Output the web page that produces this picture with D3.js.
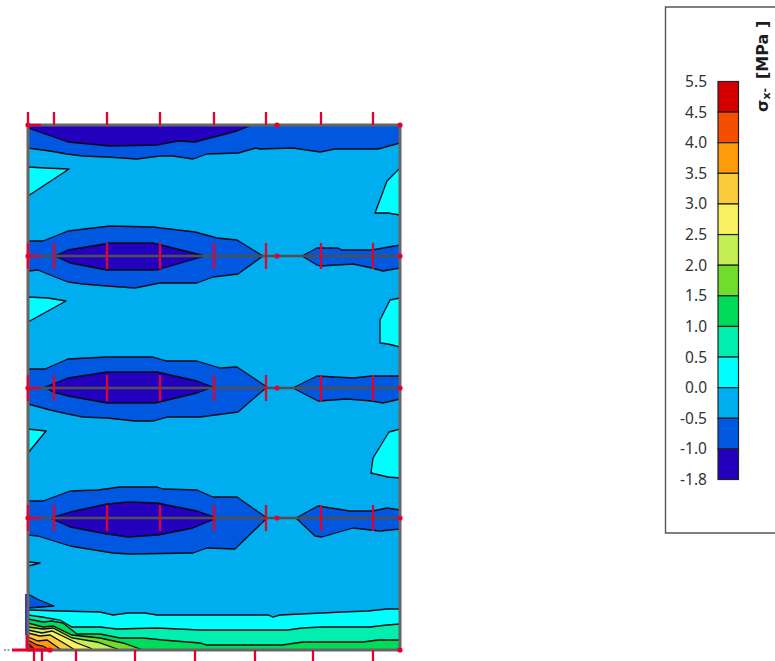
<!DOCTYPE html>
<html><head><meta charset="utf-8">
<script src="https://cdn.jsdelivr.net/npm/d3@7"></script>
<style>html,body{margin:0;padding:0;background:#fff;overflow:hidden}svg{display:block}</style>
</head><body><svg id="c" width="775" height="661"></svg>
<script>
// Stress levels and colours, top of legend first
const legendLabels = ["5.5","4.5","4.0","3.5","3.0","2.5","2.0","1.5","1.0","0.5","0.0","-0.5","-1.0","-1.8"];
const legendColors = ["#d40000","#f44e00","#ff9a0a","#facc3c","#f9f160","#c5ee55","#6edd2b","#00db5a","#00efae","#00ffff","#00aeef","#0058e0","#2200be"];
const elementWidth = 372, elementHeight = 525;
const floorLevels = [131, 263, 393];
const topTicks = [0,26,79,132,186,238,293,345];
const topDots = [249,372];
const floorTicks = [0,26,79,132,186,238,293,345];
const floorDots = [0,249,372];
const bottomTicks = [6,14,48,107,167,227,285,345];

// contour regions [x along the wall, depth from top]
const cyanRegions = [
 [[0,42],[17,43],[41,44],[0,71]],
 [[372,43],[359,56],[347,88],[360,88],[372,90]],
 [[0,172],[20,173],[38,176],[0,197]],
 [[372,173],[362,175],[352,195],[352,218],[360,219],[372,222]],
 [[0,304],[18,306],[0,328]],
 [[372,304],[361,307],[345,333],[343,348],[360,352],[372,353]],
 [[0,437],[12,438],[0,441]]
];
const midRegions = [
 [[0,0],[372,0],[372,18],[350,24],[307,24],[292,27],[265,23],[232,24],[228,23],[210,28],[179,29],[165,34],[145,31],[132,31],[109,34],[79,32],[55,31],[39,29],[22,26],[7,24],[0,23]],
 [[0,116],[15,116],[40,106],[82,101],[125,102],[167,107],[189,113],[209,115],[235,131],[210,149],[185,152],[169,158],[132,158],[107,163],[79,161],[55,159],[40,157],[27,152],[10,145],[0,146]],
 [[274,131],[289,123],[310,123],[314,125],[344,125],[372,120],[372,143],[355,146],[344,143],[325,139],[292,141],[289,140]],
 [[0,244],[17,244],[40,234],[79,232],[125,232],[139,236],[169,236],[192,243],[209,242],[239,262],[210,287],[172,292],[139,292],[125,296],[107,296],[79,293],[55,292],[40,289],[22,285],[0,279]],
 [[265,263],[289,251],[325,253],[344,251],[372,251],[372,274],[355,278],[344,276],[319,274],[290,276]],
 [[0,376],[15,376],[42,366],[70,365],[92,362],[129,362],[135,364],[169,365],[185,372],[209,372],[239,393],[207,424],[179,423],[165,428],[102,429],[85,428],[42,421],[10,411],[0,410]],
 [[268,393],[290,381],[322,386],[345,386],[359,383],[372,385],[372,404],[352,406],[325,403],[294,412],[287,411]],
 [[0,469],[9,474],[26,481],[0,483]]
];
const darkRegions = [
 [[0,0],[224,0],[209,6],[167,17],[150,16],[129,20],[82,21],[40,17],[0,3]],
 [[27,131],[40,125],[82,118],[125,118],[177,131],[129,145],[79,145],[42,138]],
 [[17,262],[40,253],[79,247],[129,247],[169,256],[185,262],[169,268],[127,278],[79,278],[40,271],[25,267]],
 [[22,393],[42,387],[79,379],[100,377],[129,378],[169,386],[189,393],[165,403],[130,410],[100,412],[79,409],[42,402]]
];
// fan of contour lines at the base, each with the colour region beneath it
const baseContours = [
 {color:"#00ffff", line:[[0,485],[32,486],[72,487],[85,490],[100,488],[117,488],[129,490],[172,490],[240,490],[245,492],[252,490],[294,488],[314,487],[340,486],[359,484],[372,484]]},
 {color:"#00efae", line:[[0,490],[14,492],[32,495],[44,502],[72,502],[89,504],[129,503],[172,505],[260,505],[274,503],[294,502],[342,502],[359,500],[372,499]]},
 {color:"#00db5a", line:[[0,494],[15,497],[24,496],[35,498],[49,509],[72,509],[92,513],[115,513],[135,515],[172,518],[179,520],[254,520],[275,517],[335,517],[350,515],[372,515]]},
 {color:"#6edd2b", line:[[0,498],[15,502],[25,501],[44,510],[72,513],[95,518],[115,525]]},
 {color:"#c5ee55", line:[[0,502],[15,504],[25,503],[44,513],[69,517],[92,525]]},
 {color:"#f9f160", line:[[0,505],[14,508],[24,506],[49,518],[62,523],[65,525]]},
 {color:"#facc3c", line:[[0,508],[12,511],[22,510],[39,520],[47,525]]},
 {color:"#ff9a0a", line:[[0,512],[10,516],[19,515],[32,524],[34,525]]},
 {color:"#f44e00", line:[[0,515],[9,520],[15,521],[22,525]]},
 {color:"#d40000", line:[[0,518],[7,525]]}
];

const RED="#e6002e", FRAME="#666", INK="#0a0a14";
const svg=d3.select("#c");
const defs=svg.append("defs");
defs.append("filter").attr("id","soft").attr("x",-0.05).attr("y",-0.05).attr("width",1.1).attr("height",1.1)
  .append("feGaussianBlur").attr("stdDeviation",0.4);
const x=d3.scaleLinear().domain([0,elementWidth]).range([28,400]);
const y=d3.scaleLinear().domain([0,elementHeight]).range([125,650]);
const path=d3.line().x(d=>x(d[0])).y(d=>y(d[1]));
const plot=svg.append("g").attr("filter","url(#soft)");
plot.append("rect").attr("x",x(0)).attr("y",y(0)).attr("width",x(elementWidth)-x(0)).attr("height",y(elementHeight)-y(0)).attr("fill","#00aeef");

function regions(data,color){
  plot.append("g").selectAll("path").data(data).join("path")
   .attr("d",d=>path(d)+"Z").attr("fill",color).attr("stroke",INK).attr("stroke-width",1.3).attr("stroke-linejoin","round");
}
regions(cyanRegions,"#00ffff");
regions(midRegions,"#0058e0");
regions(darkRegions,"#2200be");

const base=plot.append("g");
baseContours.forEach(c=>{
  const last=c.line[c.line.length-1];
  base.append("path").attr("d",path([...c.line,[last[0],elementHeight],[0,elementHeight]])+"Z").attr("fill",c.color);
  base.append("path").attr("d",path(c.line)).attr("fill","none").attr("stroke",INK).attr("stroke-width",1.3);
});

// frame and slabs
plot.append("rect").attr("x",x(0)).attr("y",y(0)).attr("width",x(elementWidth)-x(0)).attr("height",y(elementHeight)-y(0))
  .attr("fill","none").attr("stroke",FRAME).attr("stroke-width",3);
plot.append("g").selectAll("line").data(floorLevels).join("line")
  .attr("x1",x(0)).attr("x2",x(elementWidth)).attr("y1",d=>y(d)).attr("y2",d=>y(d)).attr("stroke","#505050").attr("stroke-width",2.6);

// supports / reinforcement marks
const red=svg.append("g").attr("stroke",RED).attr("fill",RED).attr("filter","url(#soft)");
const TW=2.3;
red.append("g").selectAll("line").data(topTicks).join("line").attr("x1",d=>x(d)).attr("x2",d=>x(d)).attr("y1",112).attr("y2",y(0)).attr("stroke-width",TW);
floorLevels.forEach(f=>{
  const g=red.append("g");
  g.selectAll("line.t").data(floorTicks).join("line").attr("class","t").attr("x1",d=>x(d)).attr("x2",d=>x(d)).attr("y1",y(f)-13).attr("y2",y(f)+13).attr("stroke-width",TW);
  g.selectAll("circle").data(floorDots).join("circle").attr("cx",d=>x(d)).attr("cy",y(f)).attr("r",2.6).attr("stroke","none");
  g.append("line").attr("x1",x(0)).attr("x2",x(13)).attr("y1",y(f)).attr("y2",y(f)).attr("stroke-width",TW);
});
red.append("g").selectAll("circle").data(topDots).join("circle").attr("cx",d=>x(d)).attr("cy",y(0)).attr("r",2.6).attr("stroke","none");
red.append("circle").attr("cx",x(0)).attr("cy",y(0)).attr("r",2.6).attr("stroke","none");
red.append("line").attr("x1",x(0)).attr("x2",x(13)).attr("y1",y(0)).attr("y2",y(0)).attr("stroke-width",TW);
red.append("g").selectAll("line").data(bottomTicks).join("line").attr("x1",d=>x(d)).attr("x2",d=>x(d)).attr("y1",y(elementHeight)).attr("y2",661).attr("stroke-width",TW);
red.append("g").selectAll("circle").data([22,372]).join("circle").attr("cx",d=>x(d)).attr("cy",y(elementHeight)).attr("r",2.6).attr("stroke","none");
red.append("line").attr("x1",12).attr("x2",x(20)).attr("y1",y(elementHeight)).attr("y2",y(elementHeight)).attr("stroke-width",3);
red.append("line").attr("x1",27).attr("x2",27).attr("y1",y(510)).attr("y2",y(elementHeight)).attr("stroke-width",3);
svg.append("line").attr("x1",26).attr("x2",26).attr("y1",y(469)).attr("y2",y(510)).attr("stroke","#3c3cc8").attr("stroke-width",2);
svg.append("line").attr("x1",4).attr("x2",10).attr("y1",y(elementHeight)).attr("y2",y(elementHeight)).attr("stroke","#444").attr("stroke-width",1.2).attr("stroke-dasharray","2 1.5");

// legend
const lg=svg.append("g");
lg.append("path").attr("d","M780,7H665.5V533H780").attr("fill","#fff").attr("stroke","#555").attr("stroke-width",1.4);
const ly=d3.scalePoint().domain(legendLabels).range([81.5,479.5]);
lg.append("g").selectAll("rect").data(legendColors).join("rect")
  .attr("x",718).attr("width",20.5)
  .attr("y",(d,i)=>ly(legendLabels[i]))
  .attr("height",(d,i)=>ly(legendLabels[i+1])-ly(legendLabels[i]))
  .attr("fill",d=>d).attr("stroke","#222").attr("stroke-width",1.2);
const ax=lg.append("g").attr("transform","translate(710,0)").call(d3.axisLeft(ly).tickSize(0).tickPadding(3));
ax.select(".domain").remove();
ax.selectAll("text").attr("font-family","'Noto Sans'").attr("font-size",15.5).attr("fill","#333");
const t=lg.append("text").attr("transform","translate(767.5,112) rotate(-90)")
  .attr("font-family","'DejaVu Sans'").attr("font-weight","bold").attr("font-size",16).attr("fill","#1c1c1c");
t.append("tspan").text("σ");
t.append("tspan").attr("font-size",11).attr("dy",2).text("x");
t.append("tspan").attr("font-size",11).attr("dy",-2).text("-");
lg.append("text").attr("transform","translate(767.5,79) rotate(-90)")
  .attr("font-family","'DejaVu Sans'").attr("font-weight","bold").attr("font-size",16).attr("fill","#1c1c1c").text("[MPa ]");
</script></body></html>
